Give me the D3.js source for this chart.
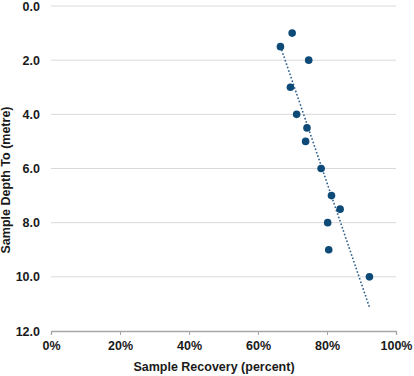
<!DOCTYPE html>
<html>
<head>
<meta charset="utf-8">
<script src="https://cdn.jsdelivr.net/npm/d3@7"></script>
<style>
  body { margin: 0; background: #fff; }
  text { font-family: "Liberation Sans", Arial, sans-serif; font-weight: bold; fill: #1a1a1a; }
</style>
</head>
<body>
<div id="chart"></div>
<script>
// sample recovery (percent) and depth (metre)
var recovery = [69.9, 66.5, 74.7, 69.4, 71.2, 74.2, 73.8, 78.3, 81.3, 83.8, 80.2, 80.5, 92.3];
var depth = [1.0, 1.5, 2.0, 3.0, 4.0, 4.5, 5.0, 6.0, 7.0, 7.5, 8.0, 9.0, 10.0];
var xTicks = [0, 20, 40, 60, 80, 100];
var yTicks = [0, 2, 4, 6, 8, 10, 12];

var width = 414, height = 376;
var margin = {top: 6, right: 18, bottom: 45, left: 51};

var svg = d3.select('#chart').append('svg')
  .attr('width', width)
  .attr('height', height);

var x = d3.scaleLinear().domain([0, 100]).range([margin.left, 396]);
var y = d3.scaleLinear().domain([0, 12]).range([margin.top, 331]);

// horizontal gridlines
svg.append('g').selectAll('line')
  .data(yTicks.slice(0, -1))
  .enter().append('line')
  .attr('x1', x(0)).attr('x2', x(100))
  .attr('y1', function(d) { return y(d); })
  .attr('y2', function(d) { return y(d); })
  .attr('stroke', '#d9d9d9')
  .attr('stroke-width', 1);

// x axis
var xAxis = svg.append('g')
  .attr('transform', 'translate(0,' + y(12) + ')')
  .call(d3.axisBottom(x).tickValues(xTicks).tickSize(4).tickPadding(6)
    .tickFormat(function(d) { return d + '%'; }));
xAxis.select('.domain').attr('stroke', '#a6a6a6').attr('stroke-width', 1.3);
xAxis.selectAll('.tick line').attr('stroke', '#a6a6a6');
xAxis.selectAll('text').style('font-size', '12.5px').style('font-family', '"Liberation Sans", Arial, sans-serif').attr('fill', '#1a1a1a');

// y axis (labels only)
var yAxis = svg.append('g')
  .attr('transform', 'translate(' + x(0) + ',0)')
  .call(d3.axisLeft(y).tickValues(yTicks).tickSize(0).tickPadding(11)
    .tickFormat(d3.format('.1f')));
yAxis.select('.domain').remove();
yAxis.selectAll('text').style('font-size', '12.5px').style('font-family', '"Liberation Sans", Arial, sans-serif').attr('fill', '#1a1a1a');

// linear trendline (depth on recovery), spanning data range
var mx = d3.mean(recovery), my = d3.mean(depth);
var sxy = d3.sum(recovery, function(v, i) { return (v - mx) * (depth[i] - my); });
var sxx = d3.sum(recovery, function(v) { return (v - mx) * (v - mx); });
var slope = sxy / sxx, icpt = my - slope * mx;
var ext = d3.extent(recovery);
svg.append('line')
  .attr('x1', x(ext[0])).attr('y1', y(icpt + slope * ext[0]))
  .attr('x2', x(ext[1])).attr('y2', y(icpt + slope * ext[1]))
  .attr('stroke', '#2e5f8f')
  .attr('stroke-width', 1.6)
  .attr('stroke-dasharray', '1.6,2');

// points
svg.append('g').selectAll('circle')
  .data(recovery)
  .enter().append('circle')
  .attr('cx', function(d) { return x(d); })
  .attr('cy', function(d, i) { return y(depth[i]); })
  .attr('r', 3.8)
  .attr('fill', '#0e4a78');

// axis titles
svg.append('text')
  .attr('x', 214).attr('y', 371)
  .attr('text-anchor', 'middle')
  .style('font-size', '12.5px')
  .text('Sample Recovery (percent)');

svg.append('text')
  .attr('transform', 'translate(10,180) rotate(-90)')
  .attr('text-anchor', 'middle')
  .style('font-size', '12.5px')
  .text('Sample Depth To (metre)');
</script>
</body>
</html>
